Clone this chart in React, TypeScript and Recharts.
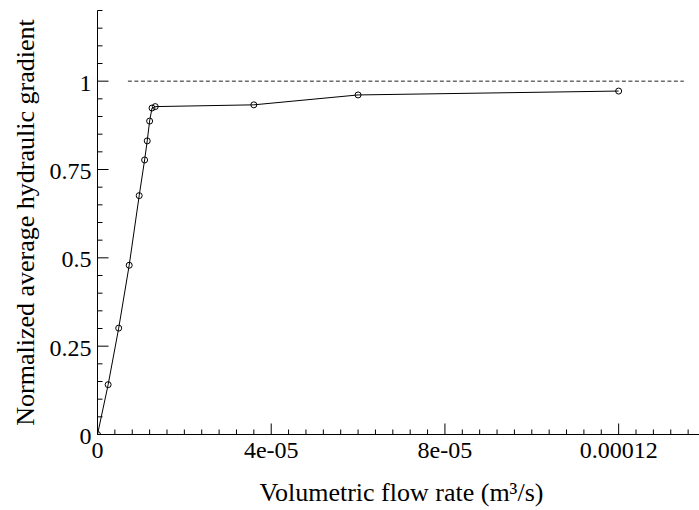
import React from 'react'
import { LineChart, Line, XAxis, YAxis } from 'recharts'

// measured points (flow rate in m^3/s, normalized gradient)
const flowRate = [0, 2.45e-6, 4.88e-6, 7.3e-6, 9.6e-6, 1.085e-5, 1.145e-5, 1.2e-5, 1.255e-5, 1.33e-5, 3.6e-5, 6.0e-5, 1.2e-4]
const gradient = [0, 0.141, 0.301, 0.479, 0.676, 0.777, 0.831, 0.887, 0.924, 0.928, 0.933, 0.961, 0.972]

// dashed reference level
const refFlow = [7e-6, 1.35e-4]
const refLevel = [1, 1]

const xTickLabels = ['0', '4e-05', '8e-05', '0.00012']
const yTickLabels = ['0', '0.25', '0.5', '0.75', '1']

const X_MAX = 1.4e-4
const Y_MAX = 1.2
// minor ticks: every 4e-6 on x, every 0.05 on y
const xTicks = Array.from({ length: 36 }, (_, i) => Number((i * 4e-6).toPrecision(3)))
const yTicks = Array.from({ length: 25 }, (_, i) => Number((i * 0.05).toFixed(2)))

const mainData = flowRate.map((x, i) => ({ x, y: gradient[i] }))
const refData = refFlow.map((x, i) => ({ x, y: refLevel[i] }))

const FONT = '"Liberation Serif", "Times New Roman", serif'
const MAJOR = 11
const MINOR = 5

const BottomTick = (props: any) => {
  const { x, y, index } = props
  const major = index % 10 === 0
  return (
    <g>
      <line x1={x} y1={y} x2={x} y2={y - (major ? MAJOR : MINOR)} stroke="#000" />
      {major && (
        <text x={x} y={y + 23} textAnchor="middle" fontFamily={FONT} fontSize={24} fill="#000">
          {xTickLabels[index / 10]}
        </text>
      )}
    </g>
  )
}

const TopTick = (props: any) => {
  const { x, y, index } = props
  const major = index % 10 === 0
  return <line x1={x} y1={y} x2={x} y2={y + (major ? MAJOR : MINOR)} stroke="#000" />
}

const LeftTick = (props: any) => {
  const { x, y, index } = props
  const major = index % 5 === 0
  return (
    <g>
      <line x1={x} y1={y} x2={x + (major ? MAJOR : MINOR)} y2={y} stroke="#000" />
      {major && (
        <text x={x - 6} y={y} dy="0.4em" textAnchor="end" fontFamily={FONT} fontSize={24} fill="#000">
          {yTickLabels[index / 5]}
        </text>
      )}
    </g>
  )
}

const RightTick = (props: any) => {
  const { x, y, index } = props
  const major = index % 5 === 0
  return <line x1={x} y1={y} x2={x - (major ? MAJOR : MINOR)} y2={y} stroke="#000" />
}

const XTitle = (props: any) => {
  const vb = props.viewBox || { x: 97.5, width: 608 }
  return (
    <text x={vb.x + vb.width / 2} y={501} textAnchor="middle" fontFamily={FONT} fontSize={26} fill="#000">
      Volumetric flow rate (m³/s)
    </text>
  )
}

const YTitle = (props: any) => {
  const vb = props.viewBox || { y: 10.5, height: 424 }
  const cy = vb.y + vb.height / 2
  return (
    <text x={34} y={cy} transform={`rotate(-90, 34, ${cy})`} textAnchor="middle" fontFamily={FONT} fontSize={26} fill="#000">
      Normalized average hydraulic gradient
    </text>
  )
}

const OpenDot = (props: any) => {
  const { cx, cy, index } = props
  if (cx == null || cy == null) return null
  return <circle key={index} cx={cx} cy={cy} r={3} fill="none" stroke="#000" strokeWidth={1} />
}

export default function App() {
  return (
    <div style={{ position: 'absolute', left: 0, top: 0, width: 699, height: 510, overflow: 'hidden', background: '#fff' }}>
      <LineChart width={720} height={510} margin={{ top: 10.5, right: 14.5, bottom: 0, left: 0.5 }}>
        <XAxis
          xAxisId="b"
          orientation="bottom"
          type="number"
          dataKey="x"
          domain={[0, X_MAX]}
          ticks={xTicks}
          interval={0}
          height={75.5}
          axisLine={{ stroke: '#000' }}
          tickLine={false}
          tickSize={0}
          tickMargin={0}
          tick={BottomTick}
          label={XTitle}
          allowDataOverflow
        />
        <XAxis
          xAxisId="t"
          orientation="top"
          type="number"
          dataKey="x"
          domain={[0, X_MAX]}
          ticks={xTicks}
          interval={0}
          height={0}
          axisLine={{ stroke: '#000' }}
          tickLine={false}
          tickSize={0}
          tickMargin={0}
          tick={TopTick}
          allowDataOverflow
        />
        <YAxis
          yAxisId="l"
          orientation="left"
          type="number"
          domain={[0, Y_MAX]}
          ticks={yTicks}
          interval={0}
          width={97}
          axisLine={{ stroke: '#000' }}
          tickLine={false}
          tickSize={0}
          tickMargin={0}
          tick={LeftTick}
          label={YTitle}
          allowDataOverflow
        />
        <YAxis
          yAxisId="r"
          orientation="right"
          type="number"
          domain={[0, Y_MAX]}
          ticks={yTicks}
          interval={0}
          width={0}
          axisLine={{ stroke: '#000' }}
          tickLine={false}
          tickSize={0}
          tickMargin={0}
          tick={RightTick}
          allowDataOverflow
        />
        <Line
          xAxisId="b"
          yAxisId="l"
          data={refData}
          dataKey="y"
          type="linear"
          stroke="#222"
          strokeWidth={1}
          strokeDasharray="4 2.5"
          dot={false}
          activeDot={false}
          isAnimationActive={false}
        />
        <Line
          xAxisId="b"
          yAxisId="l"
          data={mainData}
          dataKey="y"
          type="linear"
          stroke="#000"
          strokeWidth={1}
          dot={OpenDot}
          activeDot={false}
          isAnimationActive={false}
        />
      </LineChart>
    </div>
  )
}
